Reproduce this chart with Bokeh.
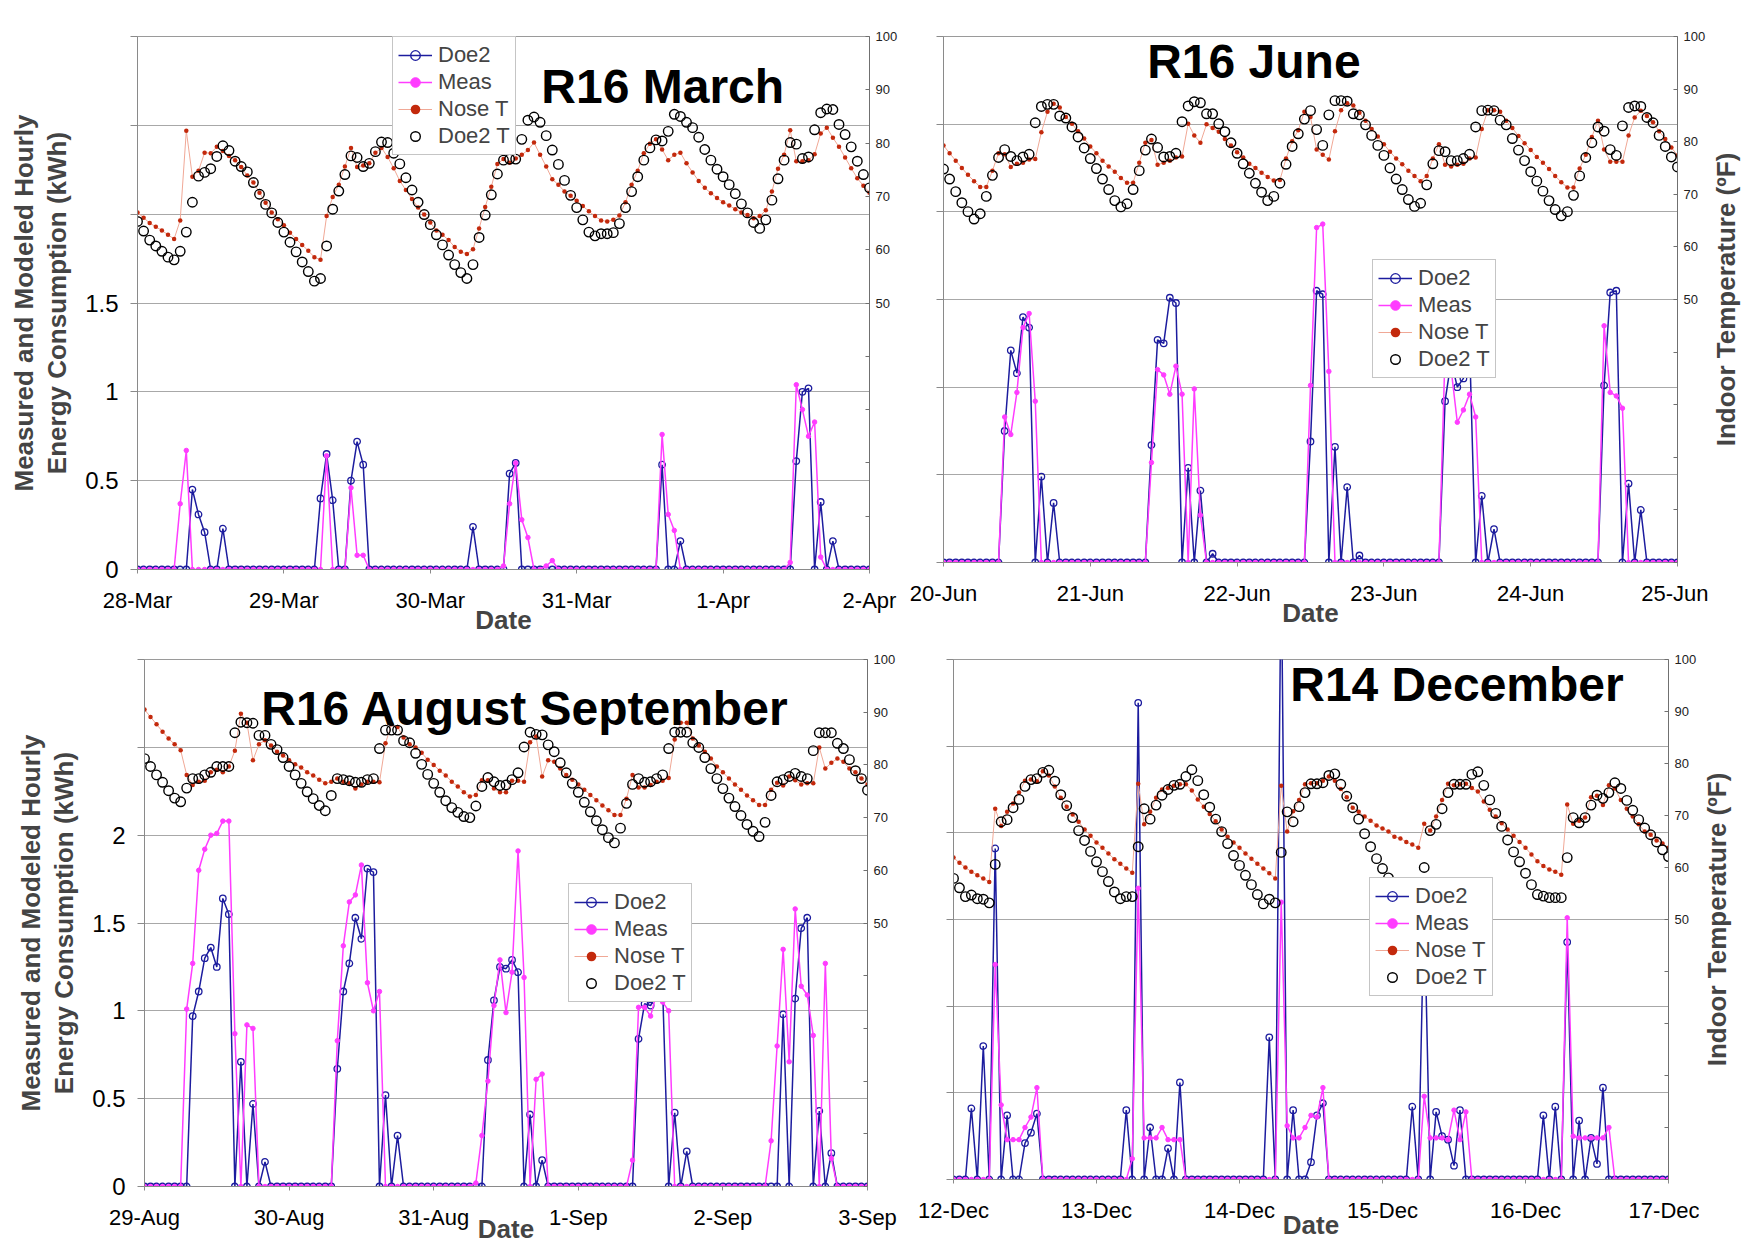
from bokeh.plotting import figure
from bokeh.models import (Range1d, LinearAxis, FixedTicker, CustomJSTickFormatter,
                          Legend, LegendItem, Label)
from bokeh.layouts import row, column
from bokeh.embed import file_html
from bokeh.resources import INLINE

FONT = "Liberation Sans"
DOE2_COLOR = "#1c1c9e"
MEAS_COLOR = "#ff3cff"
NOSE_DOT = "#c3290c"
NOSE_LINE = "#f0a896"
GRID = "#a8a8a8"
AXIS = "#8a8a8a"

hours = list(range(121))

# ---------------- R16 March ----------------
days_mar = ["28-Mar", "29-Mar", "30-Mar", "31-Mar", "1-Apr", "2-Apr"]
doe2_mar = [
    0, 0, 0, 0, 0, 0, 0, 0, 0, 0.45, 0.31, 0.21, 0, 0, 0.23, 0, 0, 0, 0, 0, 0, 0, 0, 0,
    0, 0, 0, 0, 0, 0, 0.40, 0.65, 0.39, 0, 0, 0.50, 0.72, 0.59, 0, 0, 0, 0, 0, 0, 0, 0, 0, 0,
    0, 0, 0, 0, 0, 0, 0, 0.24, 0, 0, 0, 0, 0, 0.54, 0.60, 0, 0, 0, 0, 0, 0, 0, 0, 0,
    0, 0, 0, 0, 0, 0, 0, 0, 0, 0, 0, 0, 0, 0, 0.59, 0, 0, 0.16, 0, 0, 0, 0, 0, 0,
    0, 0, 0, 0, 0, 0, 0, 0, 0, 0, 0, 0, 0.61, 1.00, 1.02, 0, 0.38, 0, 0.16, 0, 0, 0, 0, 0,
    0]
meas_mar = [
    0, 0, 0, 0, 0, 0, 0, 0.37, 0.67, 0, 0, 0, 0, 0, 0, 0, 0, 0, 0, 0, 0, 0, 0, 0,
    0, 0, 0, 0, 0, 0, 0, 0.64, 0, 0, 0, 0.46, 0.08, 0.08, 0, 0, 0, 0, 0, 0, 0, 0, 0, 0,
    0, 0, 0, 0, 0, 0, 0, 0, 0, 0, 0, 0, 0.02, 0.37, 0.60, 0.28, 0.18, 0, 0, 0.02, 0.05, 0, 0, 0,
    0, 0, 0, 0, 0, 0, 0, 0, 0, 0, 0, 0, 0, 0, 0.76, 0.31, 0.22, 0, 0, 0, 0, 0, 0, 0,
    0, 0, 0, 0, 0, 0, 0, 0, 0, 0, 0, 0.04, 1.04, 0.90, 0.75, 0.83, 0.07, 0, 0, 0, 0, 0, 0, 0,
    0]
nose_mar = [
    67.0, 66.0, 65.0, 64.3, 63.6, 62.8, 62.0, 65.5, 82.3, 73.7, 74.8, 78.2, 78.1, 79.3, 78.5, 77.6, 76.8, 75.5, 73.9, 72.6, 70.7, 68.8, 67.0, 65.7,
    64.6, 63.2, 62.0, 60.9, 59.8, 58.6, 58.1, 66.3, 69.9, 72.2, 75.6, 79.1, 75.5, 75.8, 76.2, 78.2, 79.1, 77.4, 75.3, 72.9, 71.2, 69.5, 67.9, 66.6,
    65.1, 63.6, 62.8, 61.8, 60.5, 59.6, 59.2, 60.1, 64.0, 68.0, 71.8, 76.1, 77.0, 76.3, 77.1, 77.8, 78.7, 80.1, 77.8, 75.6, 73.2, 72.2, 70.9, 70.1,
    69.2, 68.2, 67.2, 66.3, 65.5, 65.3, 65.6, 66.4, 68.9, 72.2, 74.8, 78.1, 79.9, 80.7, 78.8, 76.8, 77.8, 78.2, 76.2, 74.5, 72.9, 71.6, 70.6, 69.7,
    68.9, 68.3, 67.6, 67.0, 66.5, 65.9, 66.3, 67.4, 70.9, 75.2, 77.8, 82.4, 76.6, 76.6, 76.8, 77.9, 81.8, 82.9, 81.0, 79.3, 77.3, 75.3, 73.4, 72.0,
    70.7]
doe2t_mar = [
    65.3, 63.5, 61.8, 60.7, 59.7, 58.6, 58.1, 59.7, 63.3, 68.9, 73.8, 74.5, 75.2, 77.5, 79.5, 78.6, 76.6, 75.6, 74.6, 72.6, 70.4, 68.5, 66.9, 65.1,
    63.3, 61.4, 59.6, 57.7, 55.9, 54.1, 54.6, 60.7, 67.6, 71.0, 74.1, 77.6, 77.3, 75.6, 76.2, 78.4, 80.2, 80.1, 78.1, 76.1, 73.5, 71.2, 68.9, 66.6,
    64.7, 62.8, 60.9, 59.0, 57.2, 55.7, 54.6, 57.2, 62.3, 66.5, 70.3, 74.2, 76.8, 77.0, 77.0, 80.7, 84.3, 84.9, 83.9, 81.4, 78.7, 76.0, 73.0, 70.2,
    67.9, 65.6, 63.3, 62.6, 63.0, 63.0, 63.2, 64.9, 67.9, 70.9, 73.7, 76.8, 79.1, 80.6, 80.4, 82.2, 85.4, 85.0, 83.9, 82.9, 81.1, 78.8, 76.8, 75.1,
    73.7, 72.2, 70.5, 68.6, 66.9, 65.1, 64.0, 65.6, 69.3, 73.3, 76.8, 80.1, 79.8, 77.1, 77.4, 82.5, 85.7, 86.4, 86.3, 83.5, 81.6, 79.3, 76.6, 74.1,
    71.6]

# ---------------- R16 June ----------------
days_jun = ["20-Jun", "21-Jun", "22-Jun", "23-Jun", "24-Jun", "25-Jun"]
doe2_jun = [
    0, 0, 0, 0, 0, 0, 0, 0, 0, 0, 0.75, 1.21, 1.08, 1.40, 1.34, 0, 0.49, 0, 0.34, 0, 0, 0, 0, 0,
    0, 0, 0, 0, 0, 0, 0, 0, 0, 0, 0.67, 1.27, 1.25, 1.51, 1.48, 0, 0.54, 0, 0.41, 0, 0.05, 0, 0, 0,
    0, 0, 0, 0, 0, 0, 0, 0, 0, 0, 0, 0, 0.69, 1.55, 1.53, 0, 0.66, 0, 0.43, 0, 0.04, 0, 0, 0,
    0, 0, 0, 0, 0, 0, 0, 0, 0, 0, 0.92, 1.15, 1.00, 1.05, 1.26, 0, 0.38, 0, 0.19, 0, 0, 0, 0, 0,
    0, 0, 0, 0, 0, 0, 0, 0, 0, 0, 0, 0, 1.01, 1.54, 1.55, 0, 0.45, 0, 0.30, 0, 0, 0, 0, 0,
    0]
meas_jun = [
    0, 0, 0, 0, 0, 0, 0, 0, 0, 0, 0.83, 0.73, 0.97, 1.34, 1.42, 0.92, 0, 0, 0, 0, 0, 0, 0, 0,
    0, 0, 0, 0, 0, 0, 0, 0, 0, 0, 0.57, 1.10, 1.07, 0.96, 1.12, 0.96, 0, 0.99, 0.27, 0, 0, 0, 0, 0,
    0, 0, 0, 0, 0, 0, 0, 0, 0, 0, 0, 0, 1.01, 1.91, 1.93, 1.09, 0, 0, 0, 0, 0, 0, 0, 0,
    0, 0, 0, 0, 0, 0, 0, 0, 0, 0, 1.20, 1.10, 0.80, 0.87, 0.96, 0.83, 0, 0, 0, 0, 0, 0, 0, 0,
    0, 0, 0, 0, 0, 0, 0, 0, 0, 0, 0, 0, 1.35, 0.97, 0.95, 0.88, 0, 0, 0, 0, 0, 0, 0, 0,
    0]
nose_jun = [
    79.3, 77.8, 76.4, 75.0, 73.7, 72.5, 71.4, 71.4, 74.5, 77.8, 77.6, 75.2, 75.8, 76.0, 76.6, 76.7, 81.8, 85.7, 87.2, 86.5, 84.7, 83.4, 82.0, 80.6,
    79.1, 77.8, 76.4, 75.3, 74.3, 73.1, 72.2, 72.2, 76.0, 79.8, 80.3, 75.6, 76.0, 76.4, 77.0, 77.2, 83.4, 81.2, 79.8, 83.3, 82.6, 81.9, 80.5, 79.3,
    78.0, 77.0, 75.8, 75.0, 74.1, 73.3, 72.6, 72.7, 76.8, 80.1, 82.2, 85.7, 84.7, 78.5, 77.5, 76.6, 82.0, 86.0, 87.3, 86.9, 85.5, 84.0, 82.4, 81.0,
    79.5, 78.1, 76.8, 75.7, 74.5, 73.5, 72.5, 73.5, 76.8, 79.5, 75.6, 75.3, 75.6, 75.8, 76.8, 77.0, 82.4, 86.0, 86.0, 85.7, 84.0, 82.6, 81.1, 79.7,
    78.4, 77.1, 76.0, 74.8, 73.5, 72.3, 71.3, 71.3, 74.9, 77.5, 80.9, 84.0, 78.5, 76.2, 76.2, 76.2, 81.2, 84.6, 85.9, 84.9, 83.7, 82.0, 80.5, 78.9,
    77.4]
doe2t_jun = [
    74.8, 72.9, 70.5, 68.4, 66.7, 65.3, 66.3, 69.6, 73.6, 77.0, 78.5, 77.2, 76.4, 77.1, 77.6, 83.6, 86.7, 87.1, 87.1, 84.9, 84.5, 82.8, 80.9, 78.8,
    76.8, 74.9, 72.9, 70.9, 68.8, 67.6, 68.2, 70.9, 74.5, 78.4, 80.5, 78.9, 77.1, 77.2, 77.8, 83.8, 86.8, 87.6, 87.4, 85.3, 85.3, 83.4, 81.9, 79.8,
    77.8, 75.8, 74.0, 72.1, 70.4, 68.8, 69.6, 72.1, 75.7, 79.1, 81.5, 84.3, 85.9, 82.3, 79.3, 85.1, 87.8, 87.8, 87.7, 85.3, 85.1, 83.2, 81.2, 79.3,
    77.4, 75.0, 72.9, 70.9, 69.0, 67.7, 68.3, 71.8, 75.8, 78.3, 78.1, 76.4, 76.4, 76.8, 77.6, 82.8, 85.9, 86.0, 85.9, 84.1, 83.2, 80.6, 78.4, 76.4,
    74.3, 72.5, 70.6, 68.8, 67.1, 65.9, 66.7, 69.8, 73.5, 77.0, 79.8, 82.8, 82.0, 78.5, 77.4, 83.0, 86.5, 86.8, 86.7, 84.6, 83.6, 81.2, 79.1, 77.1,
    75.2]

# ---------------- R16 August September ----------------
days_aug = ["29-Aug", "30-Aug", "31-Aug", "1-Sep", "2-Sep", "3-Sep"]
doe2_aug = [
    0, 0, 0, 0, 0, 0, 0, 0, 0.97, 1.11, 1.30, 1.36, 1.25, 1.64, 1.55, 0, 0.71, 0, 0.47, 0, 0.14, 0, 0, 0,
    0, 0, 0, 0, 0, 0, 0, 0, 0.67, 1.11, 1.27, 1.53, 1.41, 1.81, 1.79, 0, 0.52, 0, 0.29, 0, 0, 0, 0, 0,
    0, 0, 0, 0, 0, 0, 0, 0, 0, 0.72, 1.06, 1.25, 1.24, 1.29, 1.22, 0, 0.41, 0, 0.15, 0, 0, 0, 0, 0,
    0, 0, 0, 0, 0, 0, 0, 0, 0, 0, 0.84, 1.04, 1.03, 1.10, 1.12, 0, 0.42, 0, 0.20, 0, 0, 0, 0, 0,
    0, 0, 0, 0, 0, 0, 0, 0, 0, 0, 0.98, 0, 1.07, 1.47, 1.53, 0, 0.43, 0, 0.19, 0, 0, 0, 0, 0,
    0]
meas_aug = [
    0, 0, 0, 0, 0, 0, 0, 1.01, 1.27, 1.80, 1.92, 2.00, 2.01, 2.08, 2.08, 0.87, 0, 0.92, 0.90, 0, 0, 0, 0, 0,
    0, 0, 0, 0, 0, 0, 0, 0, 0.83, 1.37, 1.62, 1.66, 1.83, 1.16, 1.00, 1.11, 0, 0, 0, 0, 0, 0, 0, 0,
    0, 0, 0, 0, 0, 0, 0, 0.02, 0.29, 0.60, 1.03, 1.29, 0.99, 1.22, 1.91, 1.19, 0, 0.61, 0.64, 0, 0, 0, 0, 0,
    0, 0, 0, 0, 0, 0, 0, 0, 0, 0.15, 1.02, 1.02, 0.97, 1.10, 1.05, 1.00, 0, 0, 0, 0, 0, 0, 0, 0,
    0, 0, 0, 0, 0, 0, 0, 0, 0.26, 0.80, 1.35, 0.71, 1.58, 1.14, 1.09, 0.86, 0, 1.27, 0.16, 0, 0, 0, 0, 0,
    0]
nose_aug = [
    90.5, 89.1, 87.7, 86.3, 85.0, 83.9, 82.8, 78.1, 76.2, 76.8, 77.0, 78.6, 79.1, 78.6, 79.7, 82.7, 89.7, 88.0, 80.9, 83.9, 84.7, 83.7, 82.5, 81.8,
    80.9, 80.1, 79.5, 78.6, 78.0, 77.2, 76.5, 76.8, 77.4, 76.8, 76.5, 75.5, 76.3, 76.8, 76.8, 76.7, 84.1, 87.7, 87.2, 85.2, 83.9, 83.3, 82.3, 81.0,
    80.0, 78.9, 78.0, 76.8, 75.9, 74.8, 74.0, 74.3, 77.1, 77.1, 75.5, 74.8, 74.8, 77.0, 77.0, 76.8, 84.3, 85.4, 77.8, 80.9, 80.6, 79.3, 78.1, 77.2,
    76.3, 75.3, 74.3, 73.3, 72.3, 71.4, 70.5, 70.5, 73.6, 78.1, 75.7, 75.7, 76.2, 76.8, 77.0, 77.5, 84.8, 88.0, 88.0, 85.0, 83.7, 82.5, 81.2, 79.7,
    78.6, 77.4, 76.3, 75.3, 74.2, 73.3, 72.4, 72.4, 75.3, 76.6, 76.1, 77.8, 77.1, 76.3, 76.5, 76.5, 83.3, 79.3, 80.4, 81.2, 80.6, 79.3, 78.6, 77.4,
    76.3]
doe2t_aug = [
    81.2, 79.7, 78.1, 76.7, 75.1, 73.7, 73.0, 75.6, 77.4, 77.4, 78.1, 78.6, 79.7, 79.7, 79.7, 86.1, 88.1, 88.0, 87.9, 85.6, 85.6, 83.9, 82.9, 81.4,
    79.7, 78.1, 76.5, 74.9, 73.6, 72.3, 71.3, 74.2, 77.4, 77.2, 77.0, 76.7, 76.7, 77.2, 77.4, 83.1, 86.6, 86.6, 86.6, 84.6, 84.2, 82.2, 80.1, 78.2,
    76.5, 74.8, 73.2, 71.9, 71.0, 70.2, 70.0, 72.2, 75.9, 77.6, 76.8, 76.1, 76.2, 77.2, 78.5, 83.4, 86.2, 85.8, 85.7, 83.8, 82.5, 80.4, 78.5, 76.5,
    74.8, 72.9, 71.1, 69.4, 67.7, 66.2, 65.2, 68.0, 72.7, 76.3, 77.4, 76.7, 76.8, 77.4, 78.1, 83.1, 86.2, 86.2, 86.2, 84.2, 83.3, 81.4, 79.3, 77.4,
    75.5, 73.7, 72.1, 70.4, 68.7, 67.4, 66.4, 69.1, 74.2, 76.8, 77.2, 77.8, 78.4, 77.8, 77.4, 82.7, 86.1, 86.1, 86.1, 84.1, 83.1, 81.0, 78.9, 77.4,
    75.2]

# ---------------- R14 December ----------------
days_dec = ["12-Dec", "13-Dec", "14-Dec", "15-Dec", "16-Dec", "17-Dec"]
doe2_dec = [
    0, 0, 0, 0.41, 0, 0.77, 0, 1.91, 0, 0.37, 0, 0, 0.21, 0.27, 0.38, 0, 0, 0, 0, 0, 0, 0, 0, 0,
    0, 0, 0, 0, 0, 0.40, 0, 2.75, 0, 0.30, 0, 0, 0.18, 0, 0.56, 0, 0, 0, 0, 0, 0, 0, 0, 0,
    0, 0, 0, 0, 0, 0.82, 0, 3.60, 0, 0.40, 0, 0, 0.10, 0.37, 0.44, 0, 0, 0, 0, 0, 0, 0, 0, 0,
    0, 0, 0, 0, 0, 0.42, 0, 1.60, 0, 0.39, 0.25, 0.23, 0.08, 0.40, 0, 0, 0, 0, 0, 0, 0, 0, 0, 0,
    0, 0, 0, 0.37, 0, 0.42, 0, 1.37, 0, 0.34, 0, 0.24, 0.09, 0.53, 0, 0, 0, 0, 0, 0, 0, 0, 0, 0,
    0]
meas_dec = [
    0, 0, 0, 0, 0, 0, 0, 1.24, 0.43, 0.23, 0.23, 0.23, 0.30, 0.36, 0.53, 0, 0, 0, 0, 0, 0, 0, 0, 0,
    0, 0, 0, 0, 0, 0, 0.12, 1.68, 0.24, 0.24, 0.24, 0.30, 0.23, 0.23, 0.23, 0, 0, 0, 0, 0, 0, 0, 0, 0,
    0, 0, 0, 0, 0, 0, 0, 1.60, 0.31, 0.24, 0.24, 0.30, 0.37, 0.36, 0.53, 0, 0, 0, 0, 0, 0, 0, 0, 0,
    0, 0, 0, 0, 0, 0, 0, 0.48, 0.24, 0.24, 0.24, 0.23, 0.40, 0.23, 0.39, 0, 0, 0, 0, 0, 0, 0, 0, 0,
    0, 0, 0, 0, 0, 0, 0, 1.51, 0.25, 0.24, 0.24, 0.24, 0.24, 0.24, 0.30, 0, 0, 0, 0, 0, 0, 0, 0, 0,
    0]
nose_dec = [
    61.9, 60.9, 60.0, 59.2, 58.5, 57.9, 57.2, 71.3, 68.0, 70.7, 72.3, 74.4, 76.7, 76.9, 76.6, 78.5, 77.7, 75.6, 73.4, 71.7, 70.2, 68.8, 67.3, 66.1,
    64.8, 63.8, 62.7, 61.6, 60.7, 59.8, 59.0, 76.1, 68.3, 70.7, 73.4, 75.0, 75.3, 75.7, 76.0, 76.0, 74.8, 73.1, 71.7, 70.3, 68.9, 67.3, 65.9, 64.8,
    63.8, 62.7, 61.7, 60.7, 59.8, 58.9, 57.9, 75.7, 66.9, 70.8, 73.0, 76.0, 76.2, 76.2, 76.7, 77.5, 76.7, 75.1, 73.5, 71.5, 70.7, 69.8, 69.0, 68.1,
    67.5, 66.9, 65.9, 65.6, 64.9, 64.4, 63.8, 68.4, 67.1, 69.8, 73.0, 76.1, 75.8, 76.0, 76.1, 75.3, 74.6, 72.7, 71.1, 69.8, 68.5, 67.3, 66.1, 64.9,
    63.8, 62.5, 61.2, 60.3, 59.6, 59.2, 58.6, 72.1, 68.4, 69.0, 69.6, 73.5, 73.8, 72.0, 75.8, 75.2, 73.0, 71.3, 69.8, 68.3, 66.9, 66.3, 65.2, 64.6,
    63.8]
doe2t_dec = [
    57.9, 56.1, 54.4, 54.7, 54.0, 53.9, 53.2, 60.6, 68.8, 69.2, 71.5, 73.1, 75.6, 76.9, 77.1, 78.3, 78.7, 76.6, 74.0, 71.9, 69.6, 67.1, 65.2, 63.1,
    61.1, 59.2, 57.3, 55.3, 54.0, 54.4, 54.4, 64.0, 71.3, 69.3, 72.0, 73.9, 75.0, 75.8, 76.0, 77.5, 78.8, 76.7, 74.0, 71.6, 69.3, 66.9, 64.6, 62.3,
    60.4, 58.5, 56.7, 54.8, 53.0, 53.9, 53.2, 62.9, 70.7, 68.8, 71.7, 74.4, 76.1, 76.1, 76.3, 77.7, 78.0, 76.0, 73.7, 71.5, 69.3, 66.5, 64.0, 61.7,
    59.8, 58.0, 56.5, 55.2, 54.2, 53.6, 53.4, 60.0, 67.1, 68.3, 71.3, 74.4, 76.0, 76.0, 76.0, 77.9, 78.4, 75.8, 73.0, 70.4, 67.9, 65.3, 63.0, 61.1,
    58.9, 56.7, 54.8, 54.5, 54.2, 54.2, 54.2, 61.9, 69.6, 68.6, 69.6, 72.0, 73.9, 73.3, 74.4, 76.3, 75.2, 72.9, 71.0, 69.2, 67.6, 66.3, 64.9, 63.4,
    62.1]

Y_LABEL = "Measured and Modeled Hourly\nEnergy Consumption (kWh)"
T_LABEL = "Indoor Temperature (ºF)"


def make_panel(width, height, borders, days, doe2, meas, nose, doe2t,
               title, title_pos, legend_pos, left_max=None, date_standoff=-11):
    bl, br, bt, bb = borders
    p = figure(width=width, height=height,
               min_border_left=bl, min_border_right=br,
               min_border_top=bt, min_border_bottom=bb,
               x_range=Range1d(0, 120), y_range=Range1d(0, 3),
               output_backend="svg", toolbar_location=None)
    p.extra_y_ranges = {"temp": Range1d(0, 100)}
    p.outline_line_color = "#9a9a9a"
    p.background_fill_color = "white"
    p.border_fill_color = "white"

    # date axis
    xa = p.xaxis[0]
    xa.ticker = FixedTicker(ticks=[0, 24, 48, 72, 96, 120])
    xa.formatter = CustomJSTickFormatter(args=dict(labels=days),
                                         code="return labels[Math.round(tick / 24)];")
    xa.axis_label = "Date"
    xa.axis_label_text_font = FONT
    xa.axis_label_text_font_style = "bold"
    xa.axis_label_text_font_size = "26px"
    xa.axis_label_text_line_height = 1.0
    xa.axis_label_standoff = date_standoff
    xa.major_label_text_font = FONT
    xa.major_label_text_font_size = "22px"
    xa.major_label_text_color = "black"
    xa.major_label_standoff = 14
    xa.major_tick_in = 0
    xa.major_tick_out = 4
    xa.minor_tick_in = 0
    xa.minor_tick_out = 0
    xa.axis_line_color = AXIS
    xa.major_tick_line_color = AXIS

    # energy axis
    ya = p.yaxis[0]
    ya.ticker = FixedTicker(ticks=[0, 0.5, 1, 1.5, 2, 2.5, 3])
    top = left_max if left_max is not None else -1
    ya.formatter = CustomJSTickFormatter(args=dict(top=top),
                                         code="return tick <= top + 1e-9 ? String(tick) : '';")
    ya.major_label_text_font = FONT
    ya.major_label_text_font_size = "24px"
    ya.major_label_text_color = "black"
    ya.major_label_standoff = 12
    ya.major_tick_in = 0
    ya.major_tick_out = 7
    ya.minor_tick_in = 0
    ya.minor_tick_out = 0
    ya.axis_line_color = AXIS
    ya.major_tick_line_color = AXIS
    if left_max is not None:
        ya.axis_label = Y_LABEL
        ya.axis_label_text_font = FONT
        ya.axis_label_text_font_style = "bold"
        ya.axis_label_text_font_size = "26px"
        ya.axis_label_text_line_height = 1.1
        ya.axis_label_standoff = 10

    p.xgrid.visible = False
    p.ygrid.ticker = FixedTicker(ticks=[0.5, 1, 1.5, 2, 2.5])
    p.ygrid.grid_line_color = GRID
    p.ygrid.grid_line_width = 1

    # temperature axis
    ra = LinearAxis(y_range_name="temp", ticker=FixedTicker(ticks=list(range(0, 101, 10))),
                    formatter=CustomJSTickFormatter(code="return tick >= 50 ? String(tick) : '';"))
    ra.major_label_text_font = FONT
    ra.major_label_text_font_size = "13px"
    ra.major_label_text_color = "#222222"
    ra.major_label_standoff = 6
    ra.major_tick_in = 4
    ra.major_tick_out = 0
    ra.minor_tick_in = 0
    ra.minor_tick_out = 0
    ra.axis_line_color = "#707070"
    ra.major_tick_line_color = "#707070"
    p.add_layout(ra, "right")

    l_doe2 = p.line(hours, doe2, line_color=DOE2_COLOR, line_width=1.5)
    s_doe2 = p.scatter(hours, doe2, marker="circle", size=6.5, line_color=DOE2_COLOR,
                       fill_color=None, line_width=1.3)
    l_meas = p.line(hours, meas, line_color=MEAS_COLOR, line_width=1.5)
    s_meas = p.scatter(hours, meas, marker="circle", size=4.5, line_color=MEAS_COLOR,
                       fill_color=MEAS_COLOR)
    l_nose = p.line(hours, nose, line_color=NOSE_LINE, line_width=1, y_range_name="temp")
    s_nose = p.scatter(hours, nose, marker="circle", size=4.5, line_color=None,
                       fill_color=NOSE_DOT, y_range_name="temp")
    s_doe2t = p.scatter(hours, doe2t, marker="circle", size=9.5, line_color="black",
                        fill_color=None, line_width=1.4, y_range_name="temp")

    legend = Legend(items=[
        LegendItem(label="Doe2", renderers=[l_doe2, s_doe2]),
        LegendItem(label="Meas", renderers=[l_meas, s_meas]),
        LegendItem(label="Nose T", renderers=[l_nose, s_nose]),
        LegendItem(label="Doe2 T", renderers=[s_doe2t]),
    ], location=legend_pos)
    legend.label_text_font = FONT
    legend.label_text_font_size = "22px"
    legend.label_height = 24
    legend.glyph_height = 24
    legend.glyph_width = 34
    legend.label_standoff = 6
    legend.spacing = 1
    legend.padding = 5
    legend.margin = 0
    legend.border_line_color = "#8c8c8c"
    legend.border_line_width = 1
    legend.background_fill_color = "white"
    legend.background_fill_alpha = 1.0
    p.add_layout(legend)

    p.add_layout(Label(x=title_pos[0], y=title_pos[1], text=title, text_font=FONT,
                       text_font_style="bold", text_font_size="48px", text_color="black",
                       text_align="center", text_baseline="middle"))
    return p


def side_title(width, height, borders, text):
    """Narrow strip whose left-axis title reads bottom to top beside a panel."""
    bl, br, bt, bb = borders
    t = figure(width=width, height=height,
               min_border_left=bl, min_border_right=br,
               min_border_top=bt, min_border_bottom=bb,
               x_range=Range1d(0, 1), y_range=Range1d(0, 1),
               x_axis_location=None, output_backend="svg", toolbar_location=None)
    t.outline_line_color = None
    t.xgrid.visible = False
    t.ygrid.visible = False
    t.background_fill_color = "white"
    t.border_fill_color = "white"
    ax = t.yaxis[0]
    ax.ticker = FixedTicker(ticks=[])
    ax.axis_line_color = None
    ax.major_tick_line_color = None
    ax.minor_tick_line_color = None
    ax.major_tick_in = 0
    ax.major_tick_out = 0
    ax.minor_tick_in = 0
    ax.minor_tick_out = 0
    ax.major_label_standoff = 0
    ax.major_label_text_font_size = "0px"
    ax.axis_label = text
    ax.axis_label_text_font = FONT
    ax.axis_label_text_font_style = "bold"
    ax.axis_label_text_font_size = "26px"
    ax.axis_label_standoff = 0
    return t


p1 = make_panel(905, 640, (137, 36, 36, 71), days_mar, doe2_mar, meas_mar, nose_mar, doe2t_mar,
                "R16 March", (86.1, 2.72), (255, 414), left_max=1.5)
p2 = make_panel(803, 640, (38, 30, 36, 78), days_jun, doe2_jun, meas_jun, nose_jun, doe2t_jun,
                "R16 June", (50.75, 2.857), (429, 184))
t2 = side_title(37, 640, (31, 5, 36, 78), T_LABEL)
p3 = make_panel(905, 608, (144, 38, 19, 62), days_aug, doe2_aug, meas_aug, nose_aug, doe2t_aug,
                "R16 August September", (63.2, 2.72), (424, 184), left_max=2, date_standoff=-19)
p4 = make_panel(794, 608, (48, 30, 19, 69), days_dec, doe2_dec, meas_dec, nose_dec, doe2t_dec,
                "R14 December", (84.5, 2.856), (416, 183), date_standoff=-16)
t4 = side_title(46, 608, (31, 14, 19, 69), T_LABEL)

# each panel sits in its own column so the panels keep their own frame edges
page = column(row(column(p1), column(p2), column(t2)),
              row(column(p3), column(p4), column(t4)))
open("out.html", "w").write(file_html(page, INLINE))
